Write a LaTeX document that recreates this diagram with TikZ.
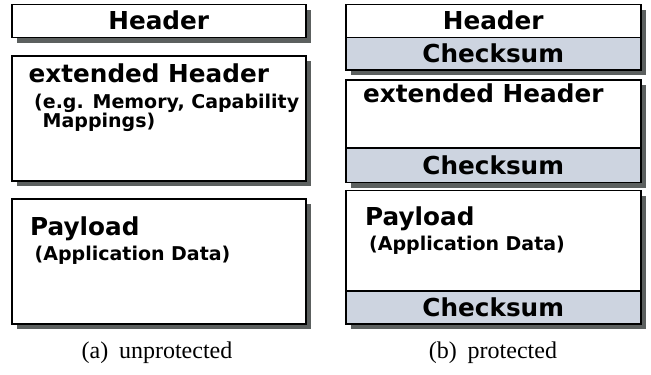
\documentclass[tikz,border=0pt]{standalone}
\usepackage{fontspec}
\setmainfont{Liberation Serif}
\newfontfamily\boxfont{DejaVu Sans Bold}
\definecolor{shadowc}{HTML}{5C605F}
\definecolor{chkc}{HTML}{CDD4E0}
\begin{document}
\begin{tikzpicture}[x=1pt,y=-1pt,
  box/.style={draw=black, line width=1.5pt, fill=white, inner sep=0pt, anchor=north west, minimum width=295pt},
  chk/.style={box, fill=chkc},
  shadowbox/.style={fill=shadowc},
  big/.style={font=\boxfont\fontsize{24.7}{29}\selectfont, inner sep=0pt},
  small/.style={font=\boxfont\fontsize{19}{22}\selectfont, inner sep=0pt},
  captxt/.style={font=\fontsize{24}{28}\selectfont, inner sep=0pt, anchor=base}]
\useasboundingbox (0,0) rectangle (651,375);
% shadows
\fill[shadowbox] (17,9.5) rectangle (311,42.5);
\fill[shadowbox] (17,61) rectangle (311,186);
\fill[shadowbox] (17,204) rectangle (311,329);
\fill[shadowbox] (351,9.5) rectangle (646,75);
\fill[shadowbox] (351,85) rectangle (646,187.5);
\fill[shadowbox] (351,195.5) rectangle (646,329);
% left column
\node[box, minimum width=294pt, minimum height=33pt] (lh) at (11,3.5) {};
\node[big] (lht) at (lh.center) {Header};
\node[box, minimum width=294pt, minimum height=125pt] (le) at (11,55) {};
\node[big, anchor=base west] (let) at (28.5,82) {extended Header};
\node[small, anchor=base west] (les1) at (34,108) {(e.g. Memory, Capability};
\node[small, anchor=base west] (les2) at (42.5,127) {Mappings)};
\node[box, minimum width=294pt, minimum height=125pt] (lp) at (11,198) {};
\node[big, anchor=base west] (lpt) at (30,235) {Payload};
\node[small, anchor=base west] (lps) at (34.5,260) {(Application Data)};
% right column
\node[box, minimum height=33pt] (rh) at (345,3.5) {};
\node[big] (rht) at (rh.center) {Header};
\node[chk, minimum height=32.5pt] (rhc) at (345,36.5) {};
\node[big] (rhct) at (rhc.center) {Checksum};
\node[box, minimum height=68pt] (re) at (345,79) {};
\node[big, anchor=base west] (ret) at (363,102) {extended Header};
\node[chk, minimum height=34.5pt] (rec) at (345,147) {};
\node[big] (rect) at (rec.center) {Checksum};
\node[box, minimum height=100.5pt] (rp) at (345,189.5) {};
\node[big, anchor=base west] (rpt) at (365,225) {Payload};
\node[small, anchor=base west] (rps) at (369,250) {(Application Data)};
\node[chk, minimum height=33pt] (rpc) at (345,290) {};
\node[big] (rpct) at (rpc.center) {Checksum};
% captions
\node[captxt] (capa) at (157,358) {(a)\hspace{0.45em}unprotected};
\node[captxt] (capb) at (493,358) {(b)\hspace{0.45em}protected};
\end{tikzpicture}
\end{document}
